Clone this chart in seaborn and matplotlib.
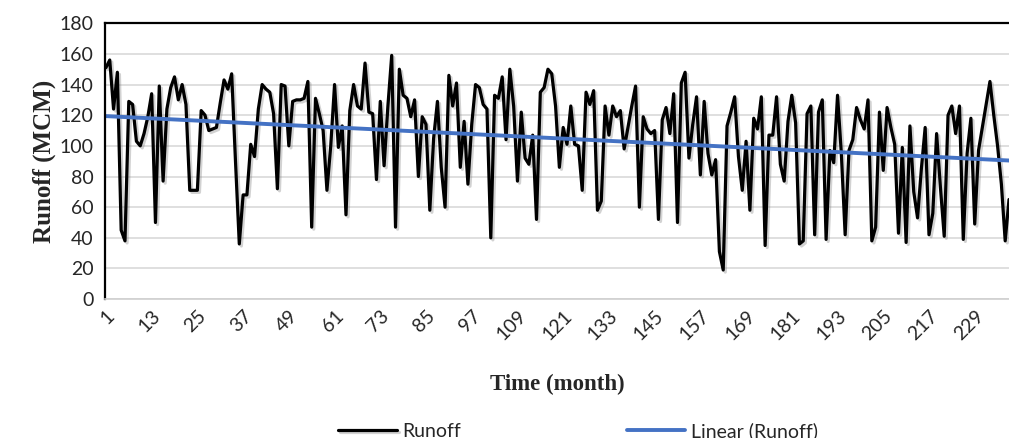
import numpy as np
import pandas as pd
import seaborn as sns
import matplotlib.pyplot as plt
import matplotlib.patheffects as pe

# monthly runoff (MCM)
runoff = [
    151, 156, 124, 148, 45, 38, 129, 127, 103, 100,
    108, 119, 134, 50, 139, 77, 124, 138, 145, 130,
    140, 127, 71, 71, 71, 123, 120, 110, 111, 112,
    128, 143, 137, 147, 90, 36, 68, 68, 101, 93,
    124, 140, 137, 135, 121, 72, 140, 139, 100, 129,
    130, 130, 131, 142, 47, 131, 121, 110, 71, 100,
    140, 99, 113, 55, 123, 140, 126, 124, 154, 122,
    121, 78, 129, 87, 126, 159, 47, 150, 133, 131,
    119, 130, 80, 119, 114, 58, 105, 129, 86, 60,
    146, 126, 141, 86, 116, 75, 114, 140, 138, 127,
    124, 40, 133, 131, 145, 104, 150, 126, 77, 122,
    92, 88, 107, 52, 135, 138, 150, 147, 126, 86,
    112, 101, 126, 101, 100, 71, 135, 127, 136, 58,
    64, 126, 107, 126, 119, 123, 98, 112, 126, 139,
    60, 119, 111, 108, 110, 52, 117, 125, 108, 134,
    50, 141, 148, 92, 114, 132, 81, 129, 95, 81,
    91, 31, 19, 113, 122, 132, 93, 71, 103, 58,
    118, 111, 132, 35, 107, 107, 132, 88, 77, 116,
    133, 115, 36, 38, 121, 126, 42, 122, 130, 39,
    97, 89, 133, 95, 42, 97, 104, 125, 117, 111,
    130, 38, 47, 122, 84, 125, 112, 101, 43, 99,
    37, 113, 70, 53, 85, 112, 42, 56, 108, 73,
    41, 120, 126, 108, 126, 39, 95, 118, 49, 97,
    112, 127, 142, 120, 100, 75, 38, 65,
]
months = list(range(1, len(runoff) + 1))
tick_months = list(range(1, 230, 12))
y_ticks = list(range(0, 181, 20))

df = pd.DataFrame({"month": months, "runoff": runoff})

sns.set_style("white")
plt.rcParams["font.family"] = ["Lato", "DejaVu Sans"]

fig = plt.figure(figsize=(10.09, 4.38), dpi=100)
ax = fig.add_axes([0.104, 0.317, 0.896, 0.630])

shadow = [pe.SimpleLineShadow(offset=(1.5, -1.5), shadow_color="gray", alpha=0.35), pe.Normal()]

sns.lineplot(data=df, x="month", y="runoff", ax=ax, color="black", linewidth=2.3,
             label="Runoff", path_effects=shadow)
# Excel-style linear trendline
sns.regplot(data=df, x="month", y="runoff", ax=ax, scatter=False, ci=None,
            label="Linear (Runoff)", line_kws={"color": "#4472C4", "linewidth": 2.8})

ax.set_xlim(0.74, 237.4)
ax.set_ylim(0, 180)
ax.set_yticks(y_ticks)
ax.set_xticks(tick_months)
ax.set_xticks(months, minor=True)
ax.grid(axis="y", color="#d9d9d9", linewidth=1.2)
ax.set_axisbelow(True)

for side in ["left", "top"]:
    ax.spines[side].set_color("black")
    ax.spines[side].set_linewidth(1.6)
ax.spines["right"].set_visible(False)
ax.spines["bottom"].set_color("#d0d0d0")
ax.spines["bottom"].set_linewidth(1.2)

ax.tick_params(axis="y", direction="in", length=6, width=1.2, color="black", labelsize=14, pad=8)
ax.tick_params(axis="x", which="both", direction="in", length=5, width=1.2, color="#d0d0d0")
ax.tick_params(axis="x", which="major", labelsize=14, pad=6)
for lab in ax.get_xticklabels():
    lab.set_rotation(45)
    lab.set_ha("right")
    lab.set_rotation_mode("anchor")

ax.set_xlabel("Time (month)", family="Liberation Serif", fontweight="bold", fontsize=16.5, labelpad=22)
ax.set_ylabel("Runoff (MCM)", family="Liberation Serif", fontweight="bold", fontsize=18, labelpad=3)

handles, labels = ax.get_legend_handles_labels()
if ax.get_legend() is not None:
    ax.get_legend().remove()
fig.legend(handles, labels, loc="center", bbox_to_anchor=(578 / 1009, 1 - 431 / 438), ncol=2,
           frameon=False, fontsize=14, handlelength=3.0, handletextpad=0.3, columnspacing=8.5)

fig.savefig("out.png", dpi=100)
